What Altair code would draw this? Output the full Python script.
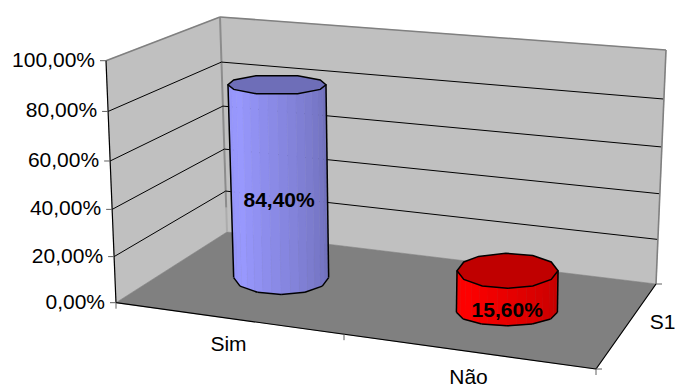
import numpy as np
import pandas as pd
import altair as alt

# Chart values
categories = ["Sim", "Não"]
values = [84.40, 15.60]
series_name = ["S1"]
value_ticks = [0, 20, 40, 60, 80, 100]
value_tick_labels = ["0,00%", "20,00%", "40,00%", "60,00%", "80,00%", "100,00%"]

W, H = 675, 387

# Screen corners of the 3D box: floor corners and the rise of each vertical edge
FLOOR = {"fl": (116, 302.7), "fr": (596, 369), "bl": (227, 232), "br": (656, 284)}
RISE = {"fl": (-10, -242), "fr": (7, -261), "bl": (-7, -215), "br": (10, -234)}


def mix(a, b, t):
    return (a[0] + (b[0] - a[0]) * t, a[1] + (b[1] - a[1]) * t)


def project(u, value, d):
    """Map category position u, value (0-100) and depth d onto the page."""
    u = u - 0.1 * u * (1 - u) * (1 - d)  # the near edge is foreshortened towards the left
    fx, fy = mix(mix(FLOOR["fl"], FLOOR["fr"], u), mix(FLOOR["bl"], FLOOR["br"], u), d)
    rx, ry = mix(mix(RISE["fl"], RISE["fr"], u), mix(RISE["bl"], RISE["br"], u), d)
    v = value / 100
    s = v - 0.06 * v * (1 - v)  # slight foreshortening towards the floor
    return fx + rx * s, fy + ry * s


SX = alt.Scale(domain=[0, W], nice=False, zero=False)
SY = alt.Scale(domain=[H, 0], nice=False, zero=False)
X = alt.X("x:Q", scale=SX, axis=None)
Y = alt.Y("y:Q", scale=SY, axis=None)


def polygons(items, stroke=None, stroke_width=0.0):
    """Filled closed shapes; items is a list of (points, fill colour)."""
    rows = []
    for pid, (pts, fill) in enumerate(items):
        for i, (x, y) in enumerate(pts):
            rows.append({"x": x, "y": y, "pid": pid, "i": i, "fill": fill})
    df = pd.DataFrame(rows)
    enc = dict(
        x=X, y=Y, detail="pid:N", order="i:Q",
        fill=alt.Fill("fill:N", scale=None),
    )
    if stroke is None:
        enc["stroke"] = alt.Stroke("fill:N", scale=None)
        return alt.Chart(df).mark_line(interpolate="linear-closed", strokeWidth=stroke_width or 0.6).encode(**enc)
    return alt.Chart(df).mark_line(interpolate="linear-closed", stroke=stroke, strokeWidth=stroke_width).encode(**enc)


def segments(segs, color, width):
    rows = []
    for pid, (a, b) in enumerate(segs):
        rows.append({"x": a[0], "y": a[1], "pid": pid, "i": 0})
        rows.append({"x": b[0], "y": b[1], "pid": pid, "i": 1})
    return alt.Chart(pd.DataFrame(rows)).mark_line(color=color, strokeWidth=width).encode(
        x=X, y=Y, detail="pid:N", order="i:Q"
    )


def texts(rows, align, bold=False):
    df = pd.DataFrame(rows, columns=["x", "y", "label"])
    return alt.Chart(df).mark_text(
        align=align, baseline="middle", font="Liberation Sans", fontSize=21,
        fontWeight="bold" if bold else "normal", color="black",
    ).encode(x=X, y=Y, text="label:N")


# Walls and floor
side_wall = [project(0, 0, 0), project(0, 100, 0), project(0, 100, 1), project(0, 0, 1)]
back_wall = [project(0, 0, 1), project(0, 100, 1), project(1, 100, 1), project(1, 0, 1)]
floor = [project(0, 0, 0), project(0, 0, 1), project(1, 0, 1), project(1, 0, 0)]
walls = polygons([(side_wall, "#c0c0c0"), (back_wall, "#c0c0c0"), (floor, "#808080")])

# Value gridlines run along the side wall and across the back wall
grid_segs = []
for t in value_ticks[1:-1]:
    grid_segs.append((project(0, t, 0), project(0, t, 1)))
    grid_segs.append((project(0, t, 1), project(1, t, 1)))
grid = segments(grid_segs, "black", 1)

wall_edges = segments(
    [
        (project(0, 100, 0), project(0, 100, 1)),
        (project(0, 100, 1), project(1, 100, 1)),
        (project(1, 100, 1), project(1, 0, 1)),
    ],
    "#808080", 1.6,
)
back_corner = segments([(project(0, 100, 1), project(0, 12, 1))], "#8c8c8c", 2)
back_corner_low = segments([(project(0, 12, 1), project(0, 0, 1))], "#acacac", 2)

# Axis lines and tick marks
axis_segs = [
    (project(0, 0, 0), project(0, 100, 0)),
    (project(0, 0, 0), project(1, 0, 0)),
    (project(1, 0, 0), project(1, 0, 1)),
]
axes = segments(axis_segs, "black", 1.2)

tick_segs = []
for t in value_ticks:
    px, py = project(0, t, 0)
    tick_segs.append(((px - 6, py), (px, py)))
for u in (0, 0.5, 1):
    px, py = project(u, 0, 0)
    tick_segs.append(((px, py), (px, py + 6)))
for d in (0, 1):
    px, py = project(1, 0, d)
    tick_segs.append(((px, py), (px + 6, py)))
ticks = segments(tick_segs, "#606060", 1)

# Cylinders are faceted prisms: one entry of outline geometry per category
TWELVE = [0, 30, 60, 90, 120, 150, 180, 210, 240, 270, 300, 330]
CYLINDERS = [
    dict(u=0.25, base_nudge=(0.3, -4), top_nudge=(-0.2, -2),
         rx_top=49, ry_top=10, rx_base=47.5, ry_base=17,
         top_angles=[0, 28, 65, 115, 152, 180, 208, 245, 295, 332],
         base_angles=TWELVE,
         lit="#9999ff", shade="#6c6cb4", top="#6e6eb8"),
    dict(u=0.75, base_nudge=(-1.2, 1), top_nudge=(-1.2, -4.5),
         rx_top=50.5, ry_top=17.5, rx_base=50.5, ry_base=13.7,
         top_angles=[0, 30, 60, 92, 125, 150, 180, 210, 240, 270, 300, 330],
         base_angles=TWELVE,
         lit="#ff0000", shade="#c00000", top="#c00000"),
]


def ring(center, rx, ry, angles):
    a = np.radians(angles)
    return [(center[0] + rx * np.cos(t), center[1] - ry * np.sin(t)) for t in a]


def shade(lit, dark, t):
    c0 = np.array([int(lit[i:i + 2], 16) for i in (1, 3, 5)], float)
    c1 = np.array([int(dark[i:i + 2], 16) for i in (1, 3, 5)], float)
    c = c0 + (c1 - c0) * t
    return "#%02x%02x%02x" % tuple(int(round(v)) for v in c)


bodies, caps, outlines = [], [], []
for spec, value in zip(CYLINDERS, values):
    bx, by = project(spec["u"], 0, 0.5)
    tx, ty = project(spec["u"], value, 0.5)
    base_c = (bx + spec["base_nudge"][0], by + spec["base_nudge"][1])
    top_c = (tx + spec["top_nudge"][0], ty + spec["top_nudge"][1])
    spec["mid"] = ((base_c[0] + top_c[0]) / 2, (base_c[1] + top_c[1]) / 2)

    top_ring = ring(top_c, spec["rx_top"], spec["ry_top"], spec["top_angles"])
    base_ring = ring(base_c, spec["rx_base"], spec["ry_base"], spec["base_angles"])
    front_base = sorted([p for p in base_ring if p[1] >= base_c[1] - 1e-6], key=lambda p: p[0])
    xs_f = [p[0] for p in front_base]
    ys_f = [p[1] for p in front_base]

    # Side facets, lit from the left
    n = 16
    for k in range(n):
        f0 = 0.5 - 0.5 * np.cos(np.pi * k / n)
        f1 = 0.5 - 0.5 * np.cos(np.pi * (k + 1) / n)
        x_t0 = top_c[0] - spec["rx_top"] + 2 * spec["rx_top"] * f0
        x_t1 = top_c[0] - spec["rx_top"] + 2 * spec["rx_top"] * f1
        x_b0 = base_c[0] - spec["rx_base"] + 2 * spec["rx_base"] * f0
        x_b1 = base_c[0] - spec["rx_base"] + 2 * spec["rx_base"] * f1
        pos = (k + 0.5) / n
        col = shade(spec["lit"], spec["shade"], max(0.0, (pos - 0.2) / 0.8)) if pos > 0.2 else shade(spec["lit"], spec["shade"], (0.2 - pos) * 0.8)
        bodies.append(([
            (x_t0, top_c[1]), (x_t1, top_c[1]),
            (x_b1, float(np.interp(x_b1, xs_f, ys_f))),
            (x_b0, float(np.interp(x_b0, xs_f, ys_f))),
        ], col))
    caps.append((top_ring, spec["top"]))

    left_t, right_t = (top_c[0] - spec["rx_top"], top_c[1]), (top_c[0] + spec["rx_top"], top_c[1])
    outlines.append((left_t, (xs_f[0], ys_f[0])))
    outlines.append((right_t, (xs_f[-1], ys_f[-1])))
    outlines.extend(zip(front_base[:-1], front_base[1:]))

cyl_bodies = polygons(bodies, stroke_width=0.5)
cyl_caps = polygons(caps, stroke="black", stroke_width=1.5)
cyl_lines = segments(outlines, "black", 1.5)

# Text
value_label_rows = []
for t, lab in zip(value_ticks, value_tick_labels):
    px, py = project(0, t, 0)
    value_label_rows.append((px - 11, py, lab))
value_labels = texts(value_label_rows, "right")

cat_rows = []
for u, name in zip((0.25, 0.75), categories):
    px, py = project(u, 0, 0)
    cat_rows.append((px + 1.5, py + 27, name))
cat_labels = texts(cat_rows, "center")

sx, sy = project(1, 0, 0.5)
series_labels = texts([(sx + 36.5, sy - 3.5, series_name[0])], "center")

data_rows = [
    (spec["mid"][0], spec["mid"][1] + 20, f"{v:.2f}%".replace(".", ","))
    for spec, v in zip(CYLINDERS, values)
]
data_labels = texts(data_rows, "center", bold=True)

chart = alt.layer(
    walls, back_corner_low, back_corner, grid, wall_edges, axes, ticks,
    cyl_bodies, cyl_lines, cyl_caps,
    value_labels, cat_labels, series_labels, data_labels,
).properties(
    width=W, height=H, padding=0, background="white",
    autosize=alt.AutoSizeParams(type="none"),
).configure_view(stroke=None)

chart.save("out.html", embed_options={"renderer": "svg", "actions": False})
